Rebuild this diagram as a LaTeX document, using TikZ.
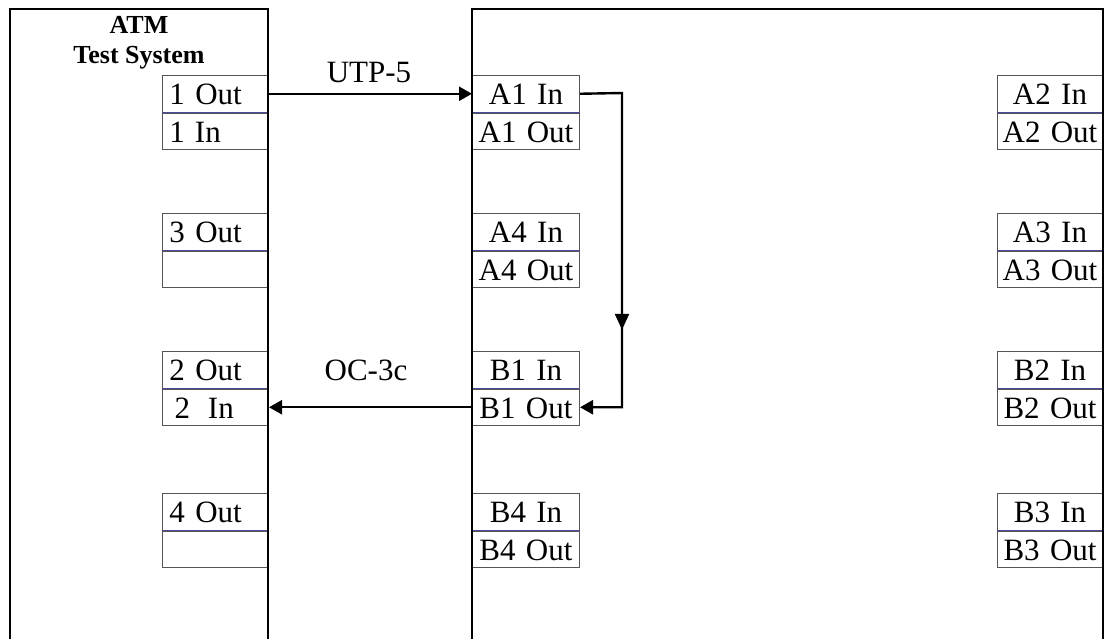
\documentclass[tikz,border=0pt]{standalone}
\usepackage{fontspec}
\setmainfont{Liberation Serif}
\usepackage{xcolor}
\usepackage{tikz}
\usetikzlibrary{positioning,arrows.meta,decorations.markings}
\definecolor{portgray}{RGB}{85,85,85}
\definecolor{sepblue}{RGB}{75,75,155}
\tikzset{
  frame-line/.style={draw=black, line width=1.2pt},
  port-left/.style={draw=portgray, line width=0.5pt, minimum height=18.25pt,
    text width=46pt, inner xsep=3.5pt, inner ysep=0pt, align=left,
    text height=11pt, text depth=0pt, font=\fontsize{15.5}{17}\selectfont},
  port-mid/.style={draw=portgray, line width=0.5pt, minimum height=18.25pt,
    text width=50pt, inner xsep=1.75pt, inner ysep=0pt, align=center,
    text height=11pt, text depth=0pt, font=\fontsize{15.5}{17}\selectfont},
  port-right/.style={port-mid, text width=49pt},
  sep-line/.style={draw=sepblue, line width=0.5pt},
  link-arrow/.style={-{Triangle[length=6.5pt, width=7pt]}, line width=1.2pt, draw=black},
  loop-arrow/.style={link-arrow, postaction={decorate}, decoration={markings,
    mark=at position 0.70 with {\arrow{Triangle[length=8pt, width=7pt]}}}},
  title-text/.style={font=\fontsize{13}{15}\selectfont\bfseries, align=center},
  link-label/.style={font=\fontsize{15.5}{17}\selectfont}
}
\begin{document}
\begin{tikzpicture}[x=0.5pt, y=-0.5pt]
\useasboundingbox (0,0) rectangle (1105,639);
% test system ports
\node[port-left, anchor=north west] (p1out) at (162,75) {1 Out};
\node[port-left, below=0pt of p1out] (p1in) {1\hspace{5pt}In};
\node[port-left, anchor=north west] (p3out) at (162,213) {3 Out};
\node[port-left, below=0pt of p3out] (p3in) {};
\node[port-left, anchor=north west] (p2out) at (162,351) {2 Out};
\node[port-left, below=0pt of p2out] (p2in) {\hspace*{2.5pt}2\hspace{9pt}In};
\node[port-left, anchor=north west] (p4out) at (162,493) {4 Out};
\node[port-left, below=0pt of p4out] (p4in) {};
% switch ports, left column
\node[port-mid, anchor=north west] (a1in) at (472,75) {A1 In};
\node[port-mid, below=0pt of a1in] (a1out) {A1 Out};
\node[port-mid, anchor=north west] (a4in) at (472,213) {A4 In};
\node[port-mid, below=0pt of a4in] (a4out) {A4 Out};
\node[port-mid, anchor=north west] (b1in) at (472,351) {B1 In};
\node[port-mid, below=0pt of b1in] (b1out) {B1 Out};
\node[port-mid, anchor=north west] (b4in) at (472,493) {B4 In};
\node[port-mid, below=0pt of b4in] (b4out) {B4 Out};
% switch ports, right column
\node[port-right, anchor=north west] (a2in) at (997,75) {A2 In};
\node[port-right, below=0pt of a2in] (a2out) {A2 Out};
\node[port-right, anchor=north west] (a3in) at (997,213) {A3 In};
\node[port-right, below=0pt of a3in] (a3out) {A3 Out};
\node[port-right, anchor=north west] (b2in) at (997,351) {B2 In};
\node[port-right, below=0pt of b2in] (b2out) {B2 Out};
\node[port-right, anchor=north west] (b3in) at (997,493) {B3 In};
\node[port-right, below=0pt of b3in] (b3out) {B3 Out};
\foreach \n in {p1out,p3out,p2out,p4out,a1in,a4in,b1in,b4in,a2in,a3in,b2in,b3in}
  \draw[sep-line] (\n.south west) -- (\n.south east);
% frames
\draw[frame-line] (10,639) -- (10,9) -- (268,9) -- (268,639);
\draw[frame-line] (472,639) -- (472,9) -- (1103,9) -- (1103,639);
\node[title-text] (tsys) at (139,43) {ATM\\Test System};
% links
\coordinate (turn) at (622,93);
\draw[link-arrow] (p1out.east) -- (a1in.west);
\draw[loop-arrow] (a1in.east) -- (turn) |- (b1out.east);
\draw[link-arrow] (b1out.west) -- (p2in.east);
\node[link-label] (utp) at (369,72) {UTP-5};
\node[link-label] (oc3) at (366,370) {OC-3c};
\end{tikzpicture}
\end{document}
